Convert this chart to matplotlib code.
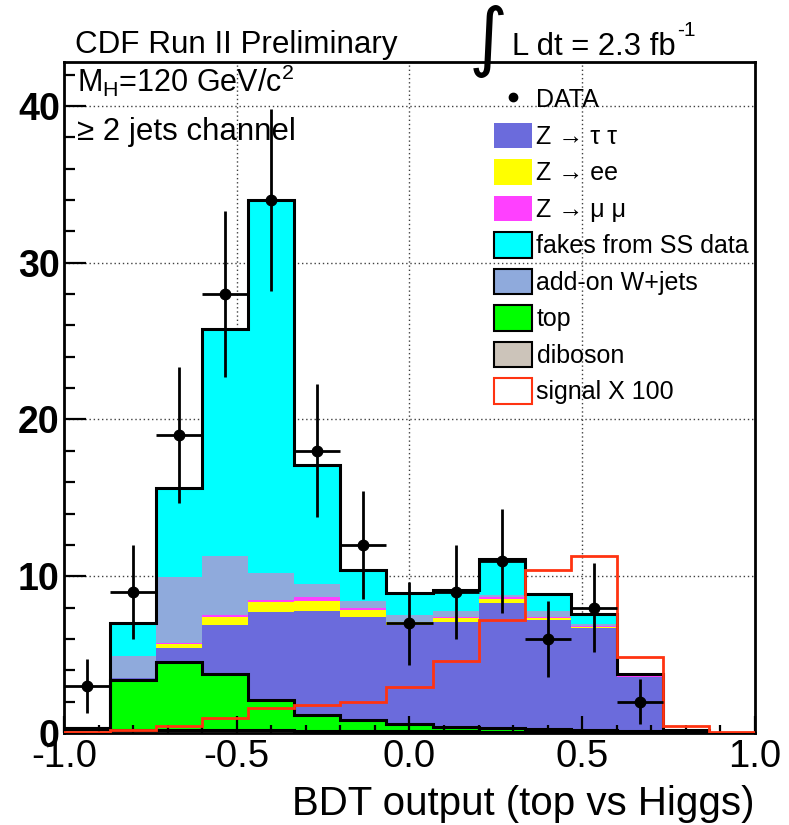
import numpy as np
import matplotlib
matplotlib.use('Agg')
import matplotlib.pyplot as plt
from matplotlib.patches import Patch
from matplotlib.lines import Line2D
from matplotlib.ticker import MultipleLocator

plt.rcParams['font.family'] = ['Liberation Sans', 'DejaVu Sans']
plt.rcParams['mathtext.fontset'] = 'custom'
plt.rcParams['mathtext.rm'] = 'Liberation Sans'
plt.rcParams['mathtext.it'] = 'Liberation Sans:italic'
plt.rcParams['mathtext.bf'] = 'Liberation Sans:bold'

# 15 bins of BDT output between -1 and 1
bin_edges = np.linspace(-1.0, 1.0, 16)

data_counts = np.array([3, 9, 19, 28, 34, 18, 12, 7, 9, 11, 6, 8, 2, 0, 0])

# backgrounds, bottom of the stack first
diboson = [0.25, 0.20, 0.20, 0.20, 0.18, 0.15, 0.12, 0.10, 0.10, 0.08, 0.08, 0.06, 0.05, 0.02, 0.00]
top = [0.05, 3.19, 4.30, 3.55, 1.92, 0.98, 0.71, 0.48, 0.30, 0.22, 0.16, 0.14, 0.10, 0.03, 0.00]
ztautau = [0.00, 0.10, 0.90, 3.11, 5.59, 6.67, 6.60, 6.28, 6.65, 7.99, 6.94, 6.49, 3.41, 0.15, 0.00]
zee = [0.00, 0.02, 0.27, 0.57, 0.64, 0.59, 0.43, 0.19, 0.28, 0.25, 0.15, 0.10, 0.04, 0.00, 0.00]
zmumu = [0.00, 0.02, 0.06, 0.07, 0.17, 0.26, 0.11, 0.06, 0.10, 0.13, 0.10, 0.06, 0.02, 0.00, 0.00]
wjets = [0.00, 1.36, 4.19, 3.80, 1.70, 0.87, 0.42, 0.43, 0.32, 0.15, 0.32, 0.10, 0.05, 0.00, 0.00]
fakes = [0.00, 2.13, 5.68, 14.50, 23.80, 7.58, 2.01, 1.42, 1.35, 2.28, 1.11, 0.65, 0.10, 0.02, 0.00]

signal_x100 = [0.05, 0.20, 0.45, 0.94, 1.58, 1.79, 2.00, 2.96, 4.60, 7.22, 10.37, 11.27, 4.84, 0.45, 0.05]

stack = [
    ('diboson', diboson, '#CCC4BA', True),
    ('top', top, '#00FF00', True),
    ('Z \u2192 \u03c4 \u03c4', ztautau, '#6B6BDC', False),
    ('Z \u2192 ee', zee, '#FFFF00', False),
    ('Z \u2192 \u03bc \u03bc', zmumu, '#FF40FF', False),
    ('add-on W+jets', wjets, '#8FAADC', True),
    ('fakes from SS data', fakes, '#00FFFF', True),
]

fig = plt.figure(figsize=(7.89, 8.25), dpi=100)
ax = fig.add_axes([64 / 789, 1 - 733 / 825, (755 - 64) / 789, (733 - 62) / 825])

# cumulative sums, drawn largest first so lower samples sit on top
cumulative = np.cumsum([np.array(v) for _, v, _, _ in stack], axis=0)
for i in range(len(stack) - 1, -1, -1):
    ax.stairs(cumulative[i], bin_edges, baseline=0, fill=True,
              color=stack[i][2], lw=0, zorder=1)

# black outlines: diboson, top and the full stack
for i in (0, 1, len(stack) - 1):
    ax.stairs(cumulative[i], bin_edges, baseline=0, color='k', lw=2.2, zorder=2)

ax.stairs(signal_x100, bin_edges, baseline=0, color='#FF3311', lw=2.0, zorder=3)

centers = 0.5 * (bin_edges[:-1] + bin_edges[1:])
half_width = 0.5 * np.diff(bin_edges)
has_data = data_counts > 0
ax.errorbar(centers[has_data], data_counts[has_data],
            yerr=np.sqrt(data_counts[has_data]), xerr=half_width[has_data],
            fmt='o', color='k', ms=7.5, elinewidth=2, capsize=0, zorder=4)

# dotted grid under the histograms
for x in (-0.5, 0.0, 0.5):
    ax.axvline(x, color='0.25', lw=1, ls=(0, (1, 2)), zorder=0.5)
for y in (10, 20, 30, 40):
    ax.axhline(y, color='0.25', lw=1, ls=(0, (1, 2)), zorder=0.5)

ax.set_xlim(-1.0, 1.0)
ax.set_ylim(0, 42.8)
ax.set_xticks([-1.0, -0.5, 0.0, 0.5, 1.0],
              labels=['-1.0', '-0.5', '0.0', '0.5', '1.0'], fontsize=27.5)
ax.set_yticks([0, 10, 20, 30, 40],
              labels=['0', '10', '20', '30', '40'], fontsize=27, fontweight='bold')
ax.xaxis.set_minor_locator(MultipleLocator(0.1))
ax.yaxis.set_minor_locator(MultipleLocator(2))
ax.tick_params(which='both', direction='in', top=False, right=False, width=1.6)
ax.tick_params(axis='x', which='major', length=12, pad=4)
ax.tick_params(axis='x', which='minor', length=6)
ax.tick_params(axis='y', which='major', length=16, pad=3)
ax.tick_params(axis='y', which='minor', length=8)
for s in ax.spines.values():
    s.set_linewidth(2)

# legend
handles = [Line2D([], [], marker='o', color='k', ls='none', ms=6)]
labels = ['DATA']
legend_order = [2, 3, 4, 6, 5, 1, 0]
for i in legend_order:
    name, _, color, outlined = stack[i]
    handles.append(Patch(facecolor=color, edgecolor='k' if outlined else color,
                         lw=1.5 if outlined else 0))
    labels.append(name)
handles.append(Patch(facecolor='white', edgecolor='#FF3311', lw=1.5))
labels.append('signal X 100')
ax.legend(handles, labels, loc='upper left', bbox_to_anchor=(494 / 789, 1 - 86 / 825),
          bbox_transform=fig.transFigure, frameon=False, fontsize=18,
          handlelength=1.5, handleheight=1.2, labelspacing=0.41,
          handletextpad=0.2, borderpad=0, borderaxespad=0)

fig.text(75 / 789, 1 - 53.5 / 825, 'CDF Run II Preliminary', fontsize=22.6,
         ha='left', va='baseline')
fig.text(488 / 789, 1 - 42 / 825, '\u222b', fontsize=54, family='DejaVu Sans',
         ha='center', va='center')
lumi = fig.text(512 / 789, 1 - 55 / 825, 'L dt = 2.3 fb', fontsize=22.3,
                ha='left', va='baseline')
fig.canvas.draw()
lumi_box = lumi.get_window_extent()
fig.text((lumi_box.x1 + 2) / 789, 1 - 36 / 825, '-1', fontsize=15,
         ha='left', va='baseline')
fig.text(77 / 789, 1 - 92 / 825, r'M$_{\rm H}$=120 GeV/c$^{2}$', fontsize=22,
         ha='left', va='baseline')
fig.text(77 / 789, 1 - 140 / 825, '\u2265 2 jets channel', fontsize=22.5,
         ha='left', va='baseline')
fig.text(755 / 789, 1 - 815 / 825, 'BDT output (top vs Higgs)', fontsize=29,
         ha='right', va='baseline')

fig.savefig('out.png', dpi=100)
